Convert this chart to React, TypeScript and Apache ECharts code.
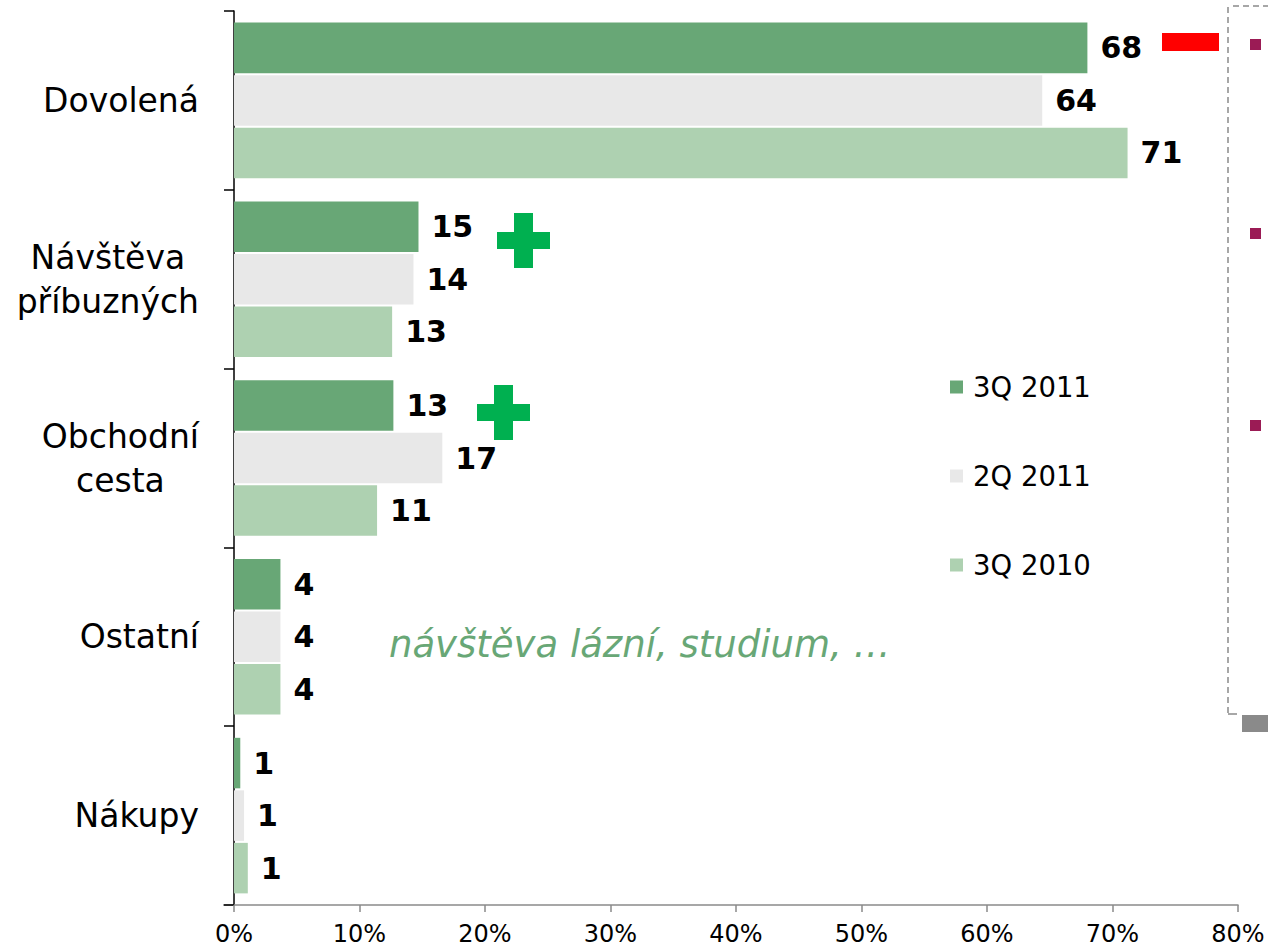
import React, { useEffect, useRef } from "react";
import * as echarts from "echarts";

const categories = ["Dovolená", "Návštěva\npříbuzných", "Obchodní\ncesta", "Ostatní", "Nákupy"];
const seriesNames = ["3Q 2011", "2Q 2011", "3Q 2010"];
const q3_2011 = [68.0, 14.7, 12.7, 3.7, 0.5];
const q2_2011 = [64.4, 14.3, 16.6, 3.7, 0.8];
const q3_2010 = [71.2, 12.6, 11.4, 3.7, 1.1];
const seriesColors = ["#68a776", "#e8e8e8", "#aed1b1"];
const xTicks = [0, 10, 20, 30, 40, 50, 60, 70, 80];
const noteText = "návštěva lázní, studium, …";

const FONT = "DejaVu Sans, Verdana, sans-serif";

export default function App() {
  const ref = useRef<HTMLDivElement>(null);
  useEffect(() => {
    document.body.style.margin = "0";
    if (!ref.current) return;
    const chart = echarts.init(ref.current, undefined, { renderer: "svg" });
    const values = [q3_2011, q2_2011, q3_2010];
    const plus = (cx: number, cy: number) => [
      { type: "rect", shape: { x: cx - 9.5, y: cy - 27.5, width: 19, height: 55 }, style: { fill: "#00b050" } },
      { type: "rect", shape: { x: cx - 26.5, y: cy - 8.5, width: 53, height: 17 }, style: { fill: "#00b050" } },
    ];
    const dash = { stroke: "#8a8a8a", lineWidth: 1.5, lineDash: [6, 4] };
    chart.setOption({
      animation: false,
      textStyle: { fontFamily: FONT },
      grid: { left: 234, right: 30, top: 11, bottom: 42, containLabel: false },
      legend: {
        orient: "vertical",
        left: 950,
        top: 372,
        padding: 0,
        itemWidth: 13,
        itemHeight: 13,
        itemGap: 59,
        icon: "rect",
        data: seriesNames,
        textStyle: { fontSize: 27.5, lineHeight: 30, color: "#000", fontFamily: FONT, padding: [0, 0, 0, 5] },
      },
      xAxis: {
        type: "value",
        min: 0,
        max: 80,
        interval: 10,
        axisLine: { show: true, lineStyle: { color: "#8a8a8a", width: 1.5 } },
        axisTick: { show: true, length: 7, lineStyle: { color: "#8a8a8a", width: 1.5 } },
        splitLine: { show: false },
        axisLabel: {
          margin: 18,
          fontSize: 24,
          lineHeight: 22,
          color: "#000",
          fontFamily: FONT,
          formatter: (v: number) => (xTicks.includes(v) ? v + "%" : ""),
        },
      },
      yAxis: {
        type: "category",
        data: categories,
        inverse: true,
        axisLine: { show: true, lineStyle: { color: "#000", width: 1.5 } },
        axisTick: { show: true, length: 10, lineStyle: { color: "#000", width: 1.5 } },
        axisLabel: {
          margin: 35,
          color: "#000",
          fontSize: 33,
          lineHeight: 44,
          fontFamily: FONT,
          formatter: (v: string) => v.split("\n").map((l) => `{c|${l}}`).join("\n"),
          rich: { c: { align: "center", fontSize: 33, lineHeight: 44, fontFamily: FONT, color: "#000" } },
        },
      },
      series: seriesNames.map((name, i) => ({
        name,
        type: "bar",
        data: values[i],
        barCategoryGap: "13%",
        barGap: "4%",
        itemStyle: { color: seriesColors[i] },
        label: {
          show: true,
          position: "right",
          distance: 13,
          fontSize: 30,
          fontWeight: "bold",
          color: "#000",
          fontFamily: FONT,
          formatter: (p: any) => String(Math.round(p.value)),
        },
      })),
      graphic: [
        { type: "line", shape: { x1: 223, y1: 905, x2: 234, y2: 905 }, style: { stroke: "#8a8a8a", lineWidth: 1.5 } },
        {
          type: "text",
          left: 389,
          top: 626,
          style: { text: noteText, font: `italic 37px ${FONT}`, fill: "#68a776" },
        },
        ...plus(523.5, 240.5),
        ...plus(503.5, 412.5),
        { type: "rect", shape: { x: 1162, y: 33, width: 57, height: 18 }, style: { fill: "#ff0000" } },
        { type: "line", shape: { x1: 1228, y1: 7, x2: 1228, y2: 714 }, style: dash },
        { type: "line", shape: { x1: 1233, y1: 6, x2: 1268, y2: 6 }, style: dash },
        { type: "line", shape: { x1: 1228, y1: 714, x2: 1237, y2: 714 }, style: { stroke: "#8a8a8a", lineWidth: 1.5 } },
        { type: "rect", shape: { x: 1242, y: 715, width: 26, height: 17 }, style: { fill: "#8a8a8a" } },
        { type: "rect", shape: { x: 1250, y: 39, width: 11, height: 11 }, style: { fill: "#9b1b55" } },
        { type: "rect", shape: { x: 1250, y: 228, width: 11, height: 11 }, style: { fill: "#9b1b55" } },
        { type: "rect", shape: { x: 1250, y: 420, width: 11, height: 11 }, style: { fill: "#9b1b55" } },
      ],
    });
    return () => chart.dispose();
  }, []);
  return <div ref={ref} style={{ width: 1268, height: 947 }} />;
}
